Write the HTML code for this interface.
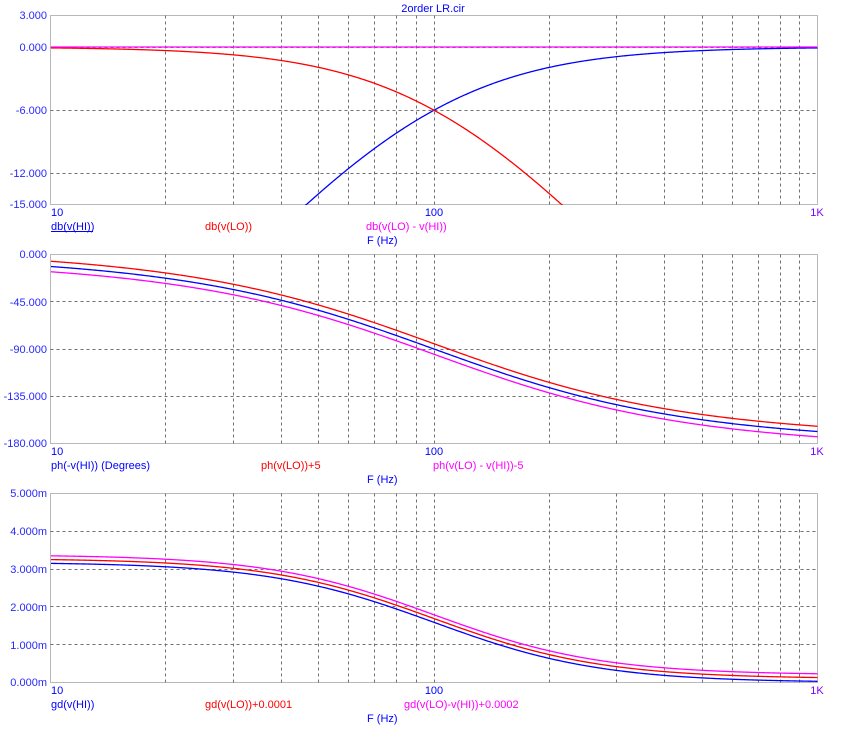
<!DOCTYPE html>
<html><head><meta charset="utf-8"><style>
html,body{margin:0;padding:0;background:#fff;width:846px;height:731px;overflow:hidden;}
svg{display:block;}
text{font-family:"Liberation Sans",Arial,sans-serif;font-size:11px;}
.tk{fill:#2828ff;text-anchor:end;}
.bl{fill:#0000ff;}
.rd{fill:#ff0000;}
.mg{fill:#ff00ff;}
.vi{fill:#8000ff;}
</style></head><body>
<svg id="s" width="846" height="731" xmlns="http://www.w3.org/2000/svg">
<defs>
<clipPath id="c0"><rect x="51" y="15" width="767" height="190"/></clipPath>
<clipPath id="c1"><rect x="51" y="254" width="767" height="190"/></clipPath>
<clipPath id="c2"><rect x="51" y="493" width="767" height="190"/></clipPath>
</defs>
<g id="grid"></g>
<g id="curves"></g>

<text x="433" y="12" text-anchor="middle" class="bl">2order LR.cir</text>

<!-- Plot 1 -->
<text x="47" y="19" class="tk">3.000</text>
<text x="47" y="51" class="tk">0.000</text>
<text x="47" y="114" class="tk">-6.000</text>
<text x="47" y="177" class="tk">-12.000</text>
<text x="47" y="208" class="tk">-15.000</text>
<text x="51" y="216" class="bl">10</text>
<text x="434" y="216" text-anchor="middle" class="bl">100</text>
<text x="817" y="216" text-anchor="middle" class="vi">1K</text>
<text x="51" y="230" class="bl">db(v(HI))</text>
<line x1="51" y1="231.5" x2="93" y2="231.5" stroke="#0000ff" stroke-width="1"/>
<text x="205" y="230" class="rd">db(v(LO))</text>
<text x="366" y="230" class="mg">db(v(LO) - v(HI))</text>
<text x="367" y="244" class="bl">F (Hz)</text>

<!-- Plot 2 -->
<text x="47" y="258" class="tk">0.000</text>
<text x="47" y="306" class="tk">-45.000</text>
<text x="47" y="353" class="tk">-90.000</text>
<text x="47" y="400" class="tk">-135.000</text>
<text x="47" y="447" class="tk">-180.000</text>
<text x="51" y="455" class="bl">10</text>
<text x="434" y="455" text-anchor="middle" class="bl">100</text>
<text x="817" y="455" text-anchor="middle" class="vi">1K</text>
<text x="51" y="469" class="bl">ph(-v(HI)) (Degrees)</text>
<text x="261" y="469" class="rd">ph(v(LO))+5</text>
<text x="433" y="469" class="mg">ph(v(LO) - v(HI))-5</text>
<text x="367" y="483" class="bl">F (Hz)</text>

<!-- Plot 3 -->
<text x="47" y="497" class="tk">5.000m</text>
<text x="47" y="535" class="tk">4.000m</text>
<text x="47" y="573" class="tk">3.000m</text>
<text x="47" y="611" class="tk">2.000m</text>
<text x="47" y="649" class="tk">1.000m</text>
<text x="47" y="686" class="tk">0.000m</text>
<text x="51" y="694" class="bl">10</text>
<text x="434" y="694" text-anchor="middle" class="bl">100</text>
<text x="817" y="694" text-anchor="middle" class="vi">1K</text>
<text x="51" y="708" class="bl">gd(v(HI))</text>
<text x="205" y="708" class="rd">gd(v(LO))+0.0001</text>
<text x="404" y="708" class="mg">gd(v(LO)-v(HI))+0.0002</text>
<text x="367" y="722" class="bl">F (Hz)</text>
</svg>
<script>
(function(){
const NS="http://www.w3.org/2000/svg";
const grid=document.getElementById('grid');
const curves=document.getElementById('curves');
const L=50.5,R=817.5;
function X(f){return L+(R-L)/2*Math.log10(f/10);}
function el(tag,attrs,parent){const e=document.createElementNS(NS,tag);for(const k in attrs)e.setAttribute(k,attrs[k]);parent.appendChild(e);return e;}
const w0=2*Math.PI*100;
const plots=[
 {top:15.5,bot:204.5,Y:v=>15.5+(3-v)*10.5,hs:[0,-6,-12],clip:'c0',
  series:[
   ['#0000ff',f=>{const x=f/100;return 20*Math.log10(x*x/(1+x*x));}],
   ['#ff0000',f=>{const x=f/100;return -20*Math.log10(1+x*x);}],
   ['#ff00ff',f=>0]
  ]},
 {top:254.5,bot:443.5,Y:v=>254.5-v*1.05,hs:[-45,-90,-135],clip:'c1',
  series:[
   ['#ff00ff',f=>-2*Math.atan(f/100)*180/Math.PI-5],
   ['#0000ff',f=>-2*Math.atan(f/100)*180/Math.PI],
   ['#ff0000',f=>-2*Math.atan(f/100)*180/Math.PI+5]
  ]},
 {top:493.5,bot:682.5,Y:v=>682.5-v*37.8,hs:[1,2,3,4],clip:'c2',
  series:[
   ['#0000ff',f=>{const x=f/100;return 2000/(w0*(1+x*x));}],
   ['#ff0000',f=>{const x=f/100;return 2000/(w0*(1+x*x))+0.1;}],
   ['#ff00ff',f=>{const x=f/100;return 2000/(w0*(1+x*x))+0.2;}]
  ]}
];
const freqs=[];
for(let d=10;d<1000;d*=10){for(let k=2;k<=9;k++)freqs.push(k*d);if(d===10)freqs.push(100);}
plots.forEach(p=>{
 // vertical grid
 freqs.forEach(f=>{
  const x=Math.floor(X(f))+0.5;
  el('line',{x1:x,y1:p.top,x2:x,y2:p.bot,stroke:'#707070','stroke-width':1,'stroke-dasharray':'3,3'},grid);
 });
 p.hs.forEach(v=>{
  const y=Math.floor(p.Y(v))+0.5;
  el('line',{x1:L,y1:y,x2:R,y2:y,stroke:'#707070','stroke-width':1,'stroke-dasharray':'3,3'},grid);
 });
 el('rect',{x:L,y:p.top,width:R-L,height:p.bot-p.top,fill:'none',stroke:'#707070','stroke-width':1,'stroke-dasharray':'1,1'},grid);
 const g=el('g',{'clip-path':'url(#'+p.clip+')'},curves);
 p.series.forEach(s=>{
  let d='';
  const N=700;
  for(let i=0;i<=N;i++){
   const f=10*Math.pow(100,i/N);
   let y=p.Y(s[1](f));
   if(y>2000)y=2000;if(y<-2000)y=-2000;
   d+=(i?'L':'M')+X(f).toFixed(2)+' '+y.toFixed(2);
  }
  el('path',{d:d,fill:'none',stroke:s[0],'stroke-width':1.3},g);
 });
});
})();
</script>
</body></html>
